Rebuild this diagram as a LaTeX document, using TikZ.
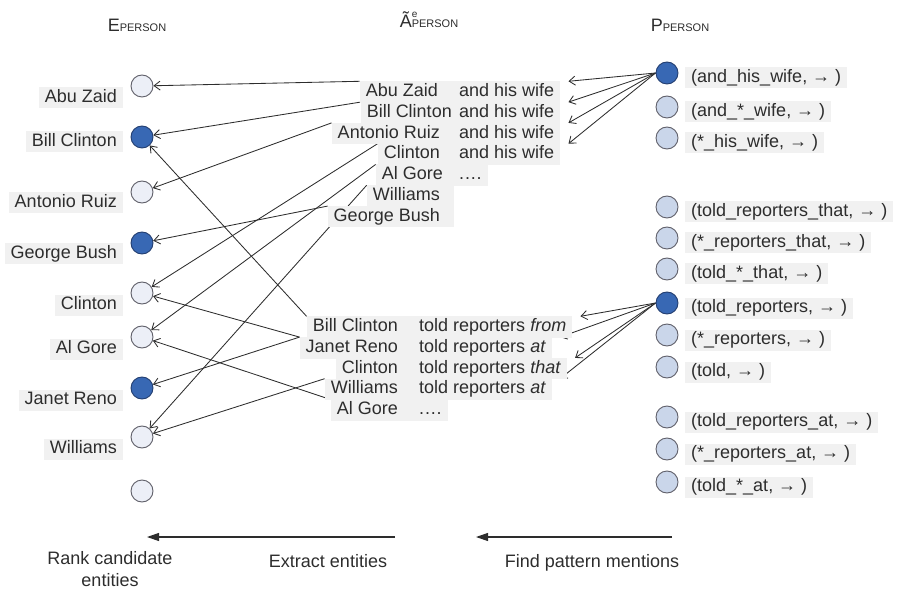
\documentclass[tikz,border=0pt]{standalone}
\usepackage{fontspec}
\setmainfont{Liberation Sans}
\usetikzlibrary{arrows.meta,calc}

\definecolor{ndark}{RGB}{56,104,180}
\definecolor{ndarkline}{RGB}{35,62,112}
\definecolor{nlight}{RGB}{236,239,247}
\definecolor{plight}{RGB}{202,214,234}
\definecolor{nline}{RGB}{95,95,105}
\definecolor{boxgray}{RGB}{241,241,241}
\definecolor{inkgray}{RGB}{45,45,45}
\definecolor{linkgray}{RGB}{45,45,45}

\pgfdeclarelayer{bg}
\pgfdeclarelayer{boxes}
\pgfsetlayers{bg,boxes,main}

\newcommand\dotrow{.\kern0.8pt.\kern0.8pt.\kern0.8pt.}

\tikzset{
  ent/.style={circle, draw=nline, fill=nlight, minimum size=22pt, inner sep=0pt, line width=0.9pt},
  lbl/.style={text=inkgray, text height=13pt, text depth=4pt, inner xsep=6pt, inner ysep=2pt},
  lblbox/.style={lbl, fill=boxgray},
  link/.style={draw=linkgray, line width=0.85pt, -{Straight Barb[length=6pt,width=9pt]}},
  flow/.style={draw=linkgray, line width=1.1pt, -{Triangle[length=12pt,width=8pt]}}
}

\begin{document}
\begin{tikzpicture}[x=1pt, y=-1pt, font=\fontsize{18}{20}\selectfont, text=inkgray]
  \useasboundingbox (0,0) rectangle (909,593);

  % column heads
  \node[anchor=base] (ehead) at (137,32) {E{\fontsize{11}{11}\selectfont PERSON}};
  \node[anchor=base] (ahead) at (429,28) {\~{A}\rlap{\raisebox{10pt}{\fontsize{10}{10}\selectfont e}}{\fontsize{11}{11}\selectfont PERSON}};
  \node[anchor=base] (phead) at (680,32) {P{\fontsize{11}{11}\selectfont PERSON}};

  % candidate entities
  \foreach \y/\f/\d [count=\i] in {86/nlight/nline, 137/ndark/ndarkline, 192/nlight/nline, 243/ndark/ndarkline,
      293/nlight/nline, 337/nlight/nline, 388/ndark/ndarkline, 437/nlight/nline, 491/nlight/nline}
    \node[ent, fill=\f, draw=\d] (e\i) at (142,\y) {};
  \foreach \dy/\name [count=\i] in {12/Abu Zaid, 5/Bill Clinton, 11/Antonio Ruiz, 11/George Bush,
      12/Clinton, 12/Al Gore, 12/Janet Reno, 12/Williams}
    \node[lblbox, anchor=east] (el\i) at ($(e\i)+(-19,\dy)$) {\name};

  % patterns
  \foreach \y/\f/\d [count=\i] in {73/ndark/ndarkline, 107/plight/nline, 138/plight/nline,
      207/plight/nline, 238/plight/nline, 269/plight/nline,
      303/ndark/ndarkline, 335/plight/nline, 367/plight/nline,
      417/plight/nline, 449/plight/nline, 482/plight/nline}
    \node[ent, fill=\f, draw=\d] (p\i) at (667,\y) {};
  \foreach \txt [count=\i] in {{(and\_his\_wife, → )}, {(and\_*\_wife, → )}, {(*\_his\_wife, → )},
      {(told\_reporters\_that, → )}, {(*\_reporters\_that, → )}, {(told\_*\_that, → )},
      {(told\_reporters, → )}, {(*\_reporters, → )}, {(told, → )},
      {(told\_reporters\_at, → )}, {(*\_reporters\_at, → )}, {(told\_*\_at, → )}}
    \node[lblbox, anchor=west] (pl\i) at ($(p\i)+(18,5)$) {\txt};

  % mentions: and his wife
  \foreach \r/\name [count=\i] in {438/Abu Zaid, 452/Bill Clinton, 440/Antonio Ruiz, 440/Clinton,
      443/Al Gore, 440/Williams, 440/George Bush}
    \node[lbl, anchor=east] (ua\i) at (\r+6, 71.2+20.8*\i) {\name};
  \foreach \txt [count=\i] in {and his wife, and his wife, and his wife, and his wife, \dotrow}
    \node[lbl, anchor=west] (up\i) at (453, 71.2+20.8*\i) {\txt};

  % mentions: told reporters
  \foreach \name [count=\i] in {Bill Clinton, Janet Reno, Clinton, Williams, Al Gore}
    \node[lbl, anchor=east] (la\i) at (404, 306.2+20.8*\i) {\name};
  \foreach \txt [count=\i] in {told reporters \textit{from}, told reporters \textit{at},
      told reporters \textit{that}, told reporters \textit{at}, \dotrow}
    \node[lbl, anchor=west] (lp\i) at (413, 306.2+20.8*\i) {\txt};

  \begin{pgfonlayer}{boxes}
    \foreach \i in {1,...,5} {
      \fill[boxgray] (ua\i.north west) rectangle (up\i.south east);
      \fill[boxgray] (la\i.north west) rectangle (lp\i.south east);
    }
    \foreach \i in {6,7}
      \fill[boxgray] (ua\i.north west) rectangle ([xshift=8pt]ua\i.south east);
  \end{pgfonlayer}

  \begin{pgfonlayer}{bg}
    \foreach \a/\e in {ua1/e1, ua2/e2, ua3/e3, ua4/e5, ua5/e6, ua6/e8, ua7/e4,
        la1/e2, la2/e5, la2/e7, la4/e8, la5/e6}
      \draw[link] (\a.north west) -- (\e);
    \foreach \i in {1,...,4} {
      \draw[link] (p1.west) -- ([xshift=8pt]up\i.north east);
      \draw[link] (p7.west) -- ([xshift=8pt]lp\i.north east);
    }
  \end{pgfonlayer}

  % steps
  \coordinate (rankend) at (147,537);
  \coordinate (extstart) at (395,537);
  \coordinate (extend) at (476,537);
  \coordinate (findstart) at (672,537);
  \draw[flow] (extstart) -- (rankend);
  \draw[flow] (findstart) -- (extend);
  \node[align=center, font=\fontsize{18}{22}\selectfont] (rank) at (110,569) {Rank candidate\\entities};
  \node (extract) at (328,561) {Extract entities};
  \node (find) at (592,563) {Find pattern mentions};
\end{tikzpicture}
\end{document}
